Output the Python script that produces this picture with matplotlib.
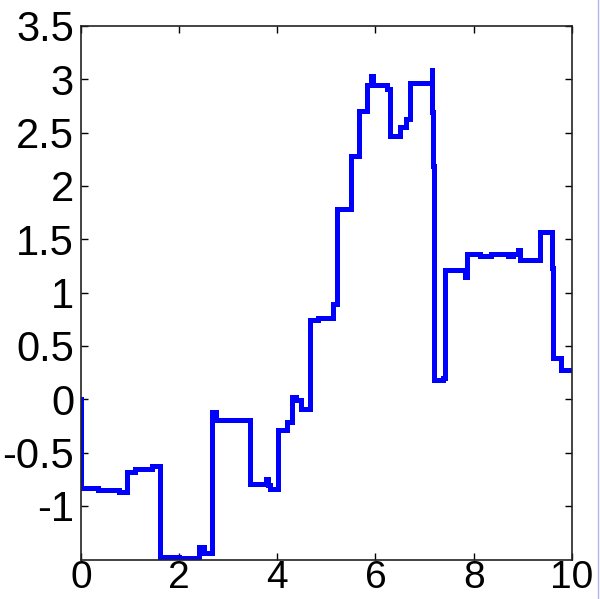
import matplotlib
matplotlib.use("Agg")
import matplotlib.pyplot as plt
from matplotlib.lines import Line2D

# step change points: (time, level)
t = [0.00, 0.01, 0.35, 0.78, 0.93, 1.10, 1.44, 1.61, 2.00, 2.40, 2.50,
     2.66, 2.76, 3.00, 3.44, 3.76, 3.80, 3.86, 4.02, 4.19, 4.29, 4.39,
     4.49, 4.66, 4.83, 5.14, 5.21, 5.51, 5.66, 5.82, 5.91, 5.94, 6.23,
     6.29, 6.49, 6.62, 6.70, 7.15, 7.16, 7.18, 7.20, 7.38, 7.41, 7.82,
     7.87, 8.13, 8.36, 8.70, 8.80, 8.90, 8.94, 9.36, 9.59, 9.61, 9.79,
     10.00]
level = [0.00, -0.83, -0.85, -0.87, -0.68, -0.65, -0.63, -1.48, -1.49,
         -1.385, -1.44, -0.12, -0.195, -0.19, -0.79, -0.75, -0.80, -0.84,
         -0.29, -0.21, 0.025, -0.005, -0.09, 0.74, 0.76, 0.89, 1.78, 2.28,
         2.70, 2.95, 3.03, 2.95, 2.91, 2.47, 2.55, 2.63, 2.97, 3.11, 2.69,
         2.19, 0.18, 0.20, 1.21, 1.15, 1.36, 1.34, 1.36, 1.34, 1.36, 1.40,
         1.31, 1.57, 1.23, 0.385, 0.27, 0.27]

xticks = [0, 2, 4, 6, 8, 10]
yticks = [-1, -0.5, 0, 0.5, 1, 1.5, 2, 2.5, 3, 3.5]
yticklabels = ['-1', '-0.5', '0', '0.5', '1', '1.5', '2', '2.5', '3', '3.5']

plt.rcParams['font.family'] = ['Liberation Sans', 'DejaVu Sans']

fig = plt.figure(figsize=(6, 5.99), dpi=100)
ax = fig.add_axes([0.135, 0.0646, 0.818, 0.892])

ax.plot(t, level, drawstyle='steps-post', color='#0000ff', lw=3.6,
        solid_joinstyle='miter')

ax.set_xlim(0, 10)
ax.set_ylim(-1.51, 3.5)
ax.set_xticks(xticks)
ax.set_xticklabels([str(v) for v in xticks])
ax.set_yticks(yticks)
ax.set_yticklabels(yticklabels)
ax.tick_params(direction='in', length=5, width=1, labelsize=30,
               top=True, right=True, pad=5, colors='black')
ax.tick_params(axis='x', pad=0, labelsize=28)
for s in ax.spines.values():
    s.set_linewidth(1.2)
    s.set_color('#222222')

# faint border line at the right edge of the figure
fig.add_artist(Line2D([0.996, 0.996], [0, 1], transform=fig.transFigure,
                      color='#b4b4ee', lw=1))

fig.savefig('out.png', dpi=100)
